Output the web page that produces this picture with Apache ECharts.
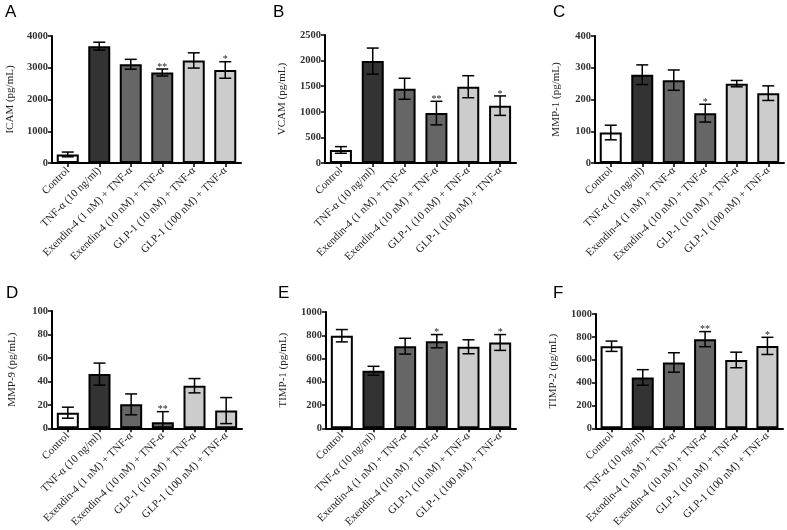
<!DOCTYPE html>
<html><head><meta charset="utf-8">
<script src="https://cdn.jsdelivr.net/npm/echarts/dist/echarts.min.js"></script>
<style>html,body{margin:0;padding:0;background:#fff}#c{width:787px;height:530px}</style>
</head><body><div id="c"></div>
<script>
const categories = ['Control','TNF-α (10 ng/ml)','Exendin-4 (1 nM) + TNF-α','Exendin-4 (10 nM) + TNF-α','GLP-1 (10 nM) + TNF-α','GLP-1 (100 nM) + TNF-α'];
const panelLetters = ['A','B','C','D','E','F'];
const yTitles = ['ICAM (pg/mL)','VCAM (pg/mL)','MMP-1 (pg/mL)','MMP-9 (pg/mL)','TIMP-1 (pg/mL)','TIMP-2 (pg/mL)'];
const yMax = [4000,2500,400,100,1000,1000];
const yStep = [1000,500,100,20,200,200];

const icamMean = [270,3680,3110,2850,3230,2930];
const icamErr  = [75,125,155,110,240,260];
const icamSig  = ['','','','**','','*'];

const vcamMean = [255,1990,1450,975,1490,1120];
const vcamErr  = [65,255,205,230,215,190];
const vcamSig  = ['','','','**','','*'];

const mmp1Mean = [96,278,261,157,250,220];
const mmp1Err  = [23,31,32,28,10,23];
const mmp1Sig  = ['','','','*','',''];

const mmp9Mean = [13.3,46.2,20.4,5.2,36.3,15.1];
const mmp9Err  = [4.7,9.4,8.9,9.0,6.1,11.1];
const mmp9Sig  = ['','','','**','',''];

const timp1Mean = [796,495,706,749,701,738];
const timp1Err  = [53,38,68,57,60,68];
const timp1Sig  = ['','','','*','','*'];

const timp2Mean = [718,445,576,780,598,721];
const timp2Err  = [45,68,85,66,68,75];
const timp2Sig  = ['','','','**','','*'];

const means = [icamMean,vcamMean,mmp1Mean,mmp9Mean,timp1Mean,timp2Mean];
const errs  = [icamErr,vcamErr,mmp1Err,mmp9Err,timp1Err,timp2Err];
const sigs  = [icamSig,vcamSig,mmp1Sig,mmp9Sig,timp1Sig,timp2Sig];

// layout
const barFill = ['#ffffff','#333333','#666666','#666666','#cccccc','#cccccc'];
const grids = [
  {left:52, top:36, width:189, height:127},
  {left:325, top:35, width:191, height:128},
  {left:595, top:36, width:189, height:127},
  {left:52, top:311, width:190, height:127},
  {left:326, top:312, width:190, height:126},
  {left:596, top:314, width:187, height:124}
];
const nameGaps = [36,37,33,34,37,37];
const letterPos = [[5,4],[273,4],[553,4],[6,285],[278,285],[553,285]];
const serif = 'Liberation Serif';

const option = {
  animation:false,
  backgroundColor:'#fff',
  title: panelLetters.map((t,i)=>({text:t,left:letterPos[i][0],top:letterPos[i][1],padding:0,
    textStyle:{fontFamily:'Liberation Sans',fontSize:17,fontWeight:'normal',color:'#000'}})),
  grid: grids.map(g=>Object.assign({containLabel:false},g)),
  xAxis: grids.map((g,i)=>({
    type:'category', gridIndex:i, data:categories,
    axisLine:{lineStyle:{color:'#000',width:2}},
    axisTick:{show:true,alignWithLabel:true,length:4,lineStyle:{color:'#000',width:1.5}},
    axisLabel:{interval:0,rotate:45,fontFamily:serif,fontSize:11,color:'#222',margin:6}
  })),
  yAxis: grids.map((g,i)=>({
    type:'value', gridIndex:i, min:0, max:yMax[i], interval:yStep[i],
    name:yTitles[i], nameLocation:'middle', nameGap:nameGaps[i],
    nameTextStyle:{fontFamily:serif,fontSize:11,color:'#222'},
    splitLine:{show:false},
    axisLine:{show:true,lineStyle:{color:'#000',width:2}},
    axisTick:{show:true,length:4,lineStyle:{color:'#000',width:1.5}},
    axisLabel:{fontFamily:serif,fontSize:10.5,fontWeight:'bold',color:'#333',margin:4,
      formatter:function(v){return String(v);}}
  })),
  series: []
};

means.forEach((m,i)=>{
  option.series.push({
    type:'bar', xAxisIndex:i, yAxisIndex:i, barWidth:22,
    data:m.map((v,k)=>({value:v,itemStyle:{color:barFill[k],borderColor:'#000',borderWidth:2}})),
    z:2
  });
  option.series.push({
    type:'custom', xAxisIndex:i, yAxisIndex:i, z:5,
    data:m.map((v,k)=>[k,v,errs[i][k]]),
    renderItem:function(params,api){
      const x=api.value(0), mv=api.value(1), e=api.value(2);
      const lo=Math.max(0,mv-e), hi=mv+e;
      const pt=api.coord([x,hi]), pb=api.coord([x,lo]);
      const half=6, st={stroke:'#000',lineWidth:1.5};
      const ch=[
        {type:'line',shape:{x1:pt[0],y1:pt[1],x2:pb[0],y2:pb[1]},style:st},
        {type:'line',shape:{x1:pt[0]-half,y1:pt[1],x2:pt[0]+half,y2:pt[1]},style:st}
      ];
      if(mv-e>0) ch.push({type:'line',shape:{x1:pb[0]-half,y1:pb[1],x2:pb[0]+half,y2:pb[1]},style:st});
      const s=sigs[i][params.dataIndex];
      if(s) ch.push({type:'text',style:{text:s,x:pt[0],y:pt[1]+3,textAlign:'center',textVerticalAlign:'bottom',
        fontFamily:serif,fontSize:10,fill:'#222'}});
      return {type:'group',children:ch};
    }
  });
});

const chart = echarts.init(document.getElementById('c'),null,{renderer:'canvas'});
chart.setOption(option);
</script></body></html>
